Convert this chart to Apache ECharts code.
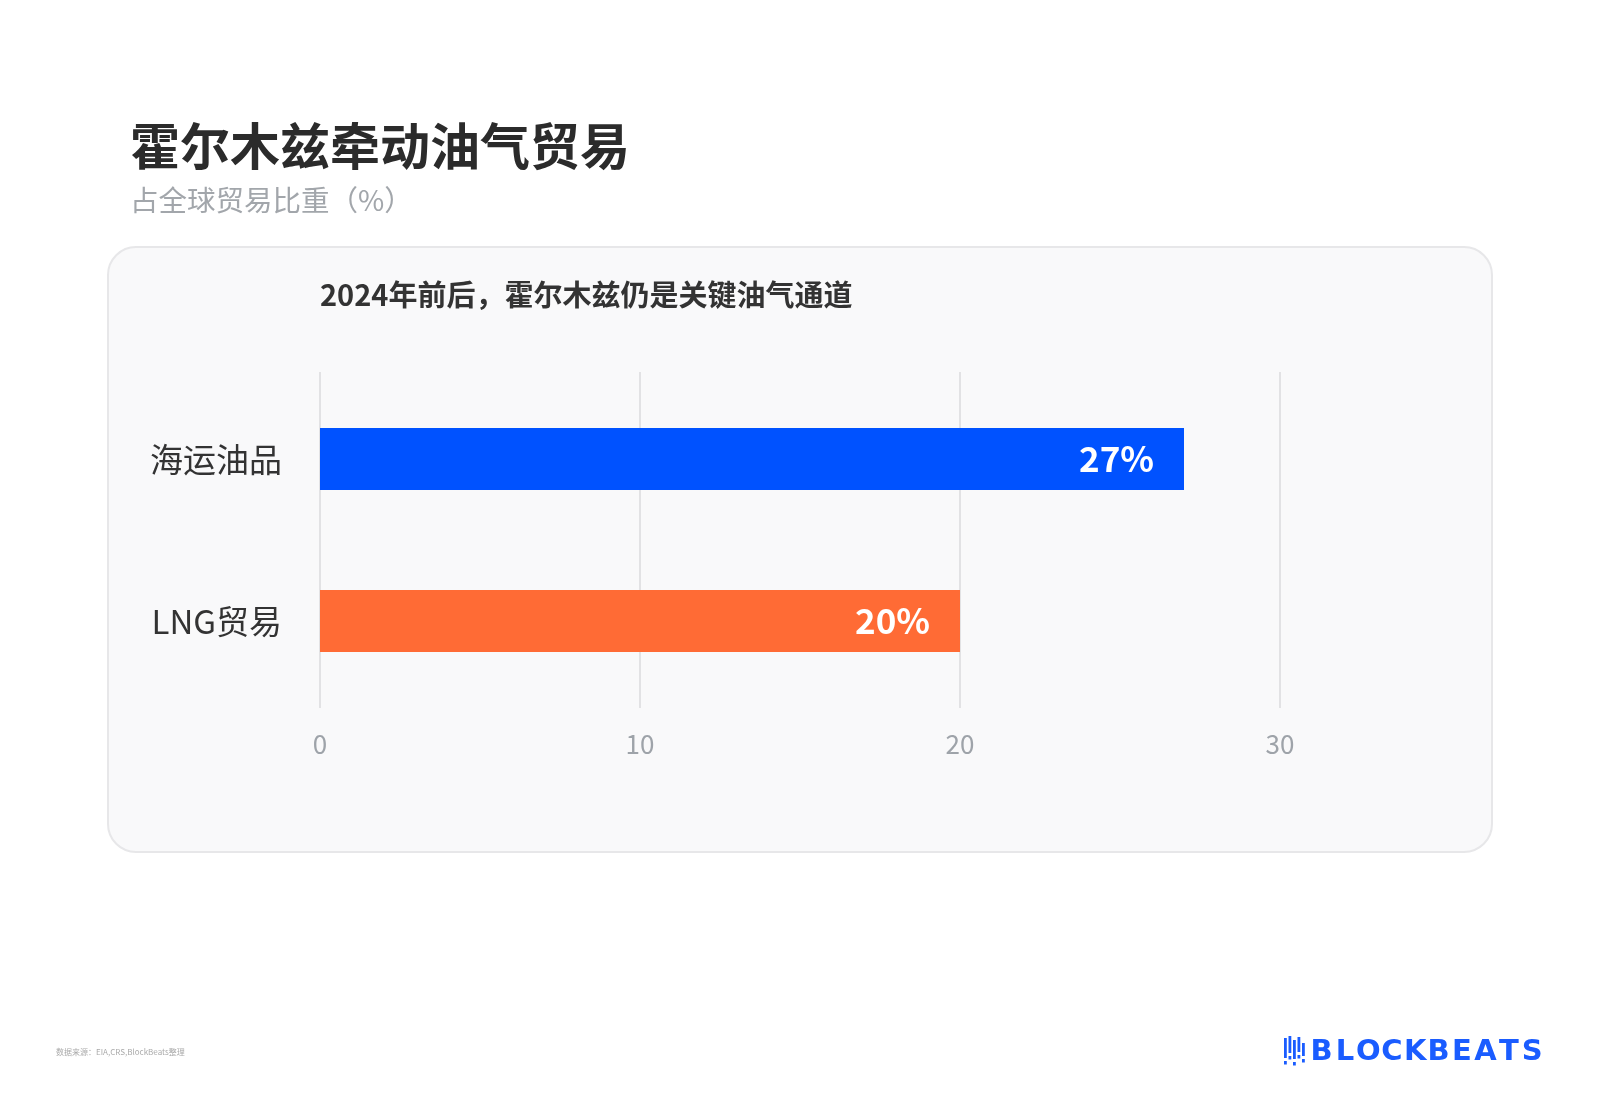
<!DOCTYPE html>
<html>
<head>
<meta charset="utf-8">
<script src="https://cdn.jsdelivr.net/npm/echarts@6/dist/echarts.min.js"></script>
<style>
html,body{margin:0;padding:0;background:#ffffff;}
#chart{width:1600px;height:1105px;}
</style>
</head>
<body>
<div id="chart"></div>
<script>
var categories = ['海运油品', 'LNG贸易'];
var values = [27, 20];
var barColors = ['#0052ff', '#ff6b35'];
var xTicks = [0, 10, 20, 30];

var titleText = '霍尔木兹牵动油气贸易';
var subtitleText = '占全球贸易比重（%）';
var chartTitle = '2024年前后，霍尔木兹仍是关键油气通道';
var sourceText = '数据来源：EIA,CRS,BlockBeats整理';
var logoText = 'BLOCKBEATS';

var FONT = '"Noto Sans CJK SC", "Noto Sans", sans-serif';
var chart = echarts.init(document.getElementById('chart'));

var graphics = [
  { type: 'rect', z: -100, shape: { x: 108, y: 247, width: 1384, height: 605, r: 28 },
    style: { fill: '#f9f9fa', stroke: '#e7e7e9', lineWidth: 2 } },
  { type: 'text', x: 130, y: 146, style: { text: titleText, font: 'bold 50px ' + FONT, fill: '#2b2b2b', textVerticalAlign: 'middle' } },
  { type: 'text', x: 130, y: 200, style: { text: subtitleText, font: '28.5px ' + FONT, fill: '#a2a6ab', textVerticalAlign: 'middle' } },
  { type: 'text', x: 320, y: 295, style: { text: chartTitle, font: 'bold 29px ' + FONT, fill: '#333333', textVerticalAlign: 'middle' } },
  { type: 'text', x: 56, y: 1052, style: { text: sourceText, font: '8px ' + FONT, fill: '#aaaaaa', textVerticalAlign: 'middle' } }
];
// logo letters
for (var i = 0; i < logoText.length; i++) {
  graphics.push({ type: 'text', x: 1310 + 11.6 + i * 23.4, y: 1052,
    style: { text: logoText[i], font: 'bold 29px "DejaVu Sans", sans-serif', fill: '#1a5cff', textAlign: 'center', textVerticalAlign: 'middle' } });
}
// logo icon bars
var iconBars = [[1284, 1038, 20], [1288.5, 1036, 17], [1293, 1040, 19], [1297.5, 1037, 15], [1302, 1043, 13]];
iconBars.forEach(function (b) {
  graphics.push({ type: 'rect', shape: { x: b[0], y: b[1], width: 2.8, height: b[2] }, style: { fill: '#1a5cff' } });
  graphics.push({ type: 'rect', shape: { x: b[0], y: b[1] + b[2] + 3, width: 2.8, height: 3.5 }, style: { fill: '#1a5cff' } });
});

var option = {
  backgroundColor: '#ffffff',
  animation: false,
  graphic: graphics,
  grid: [
    { left: 320, width: 960, top: 378, height: 324 },
    { left: 320, width: 960, top: 372, height: 336 }
  ],
  xAxis: [
    { gridIndex: 0, type: 'value', min: 0, max: 30, interval: 10, show: false },
    { gridIndex: 1, type: 'value', min: xTicks[0], max: xTicks[xTicks.length - 1], interval: 10,
      axisLine: { show: false }, axisTick: { show: false },
      splitLine: { show: true, lineStyle: { color: '#e2e2e4', width: 2 } },
      axisLabel: { margin: 23, color: '#9ea3a9', fontSize: 26, fontFamily: FONT } }
  ],
  yAxis: [
    { gridIndex: 0, type: 'category', data: categories, inverse: true,
      axisLine: { show: false }, axisTick: { show: false }, splitLine: { show: false },
      axisLabel: { margin: 38, color: '#333333', fontSize: 33, fontFamily: FONT } },
    { gridIndex: 1, type: 'category', data: categories, show: false }
  ],
  series: [{
    type: 'bar',
    xAxisIndex: 0, yAxisIndex: 0,
    barWidth: 62,
    data: values.map(function (v, i) { return { value: v, itemStyle: { color: barColors[i] } }; }),
    label: {
      show: true, position: 'insideRight', distance: 30,
      formatter: '{c}%', color: '#ffffff', fontSize: 35, fontWeight: 'bold', fontFamily: FONT
    }
  }]
};
chart.setOption(option);
</script>
</body>
</html>
